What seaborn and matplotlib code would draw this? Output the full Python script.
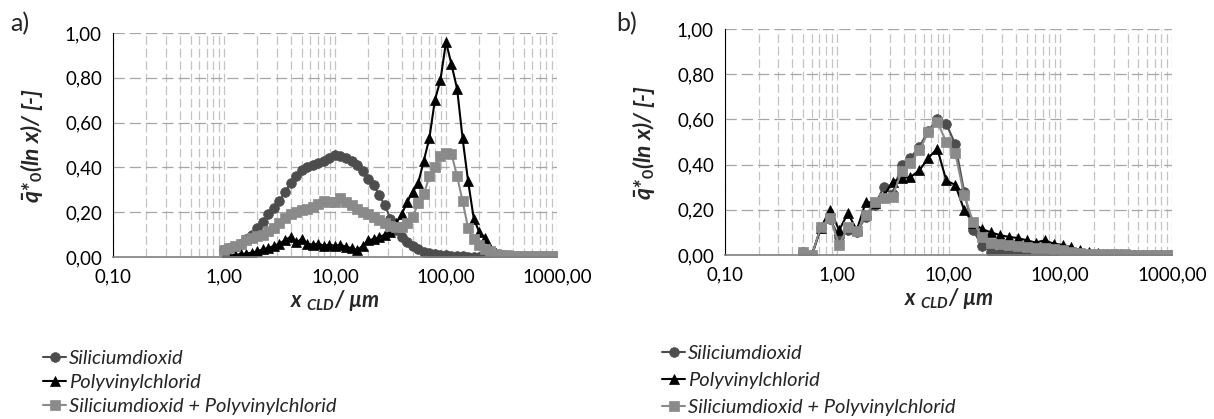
import numpy as np
import pandas as pd
import seaborn as sns
import matplotlib.pyplot as plt

# panel a: chord length channels (µm) and q*0 values
x_a = [1.00, 1.12, 1.26, 1.41, 1.58, 1.78, 2.00, 2.24, 2.51, 2.82,
       3.16, 3.55, 3.98, 4.47, 5.01, 5.62, 6.31, 7.08, 7.94, 8.91,
       10.0, 11.2, 12.6, 14.1, 15.8, 17.8, 20.0, 22.4, 25.1, 28.2,
       31.6, 35.5, 39.8, 44.7, 50.1, 56.2, 63.1, 70.8, 79.4, 89.1,
       100, 112, 126, 141, 158, 178, 200, 224, 251, 282,
       316, 355, 398, 447, 501, 562, 631, 708, 794, 891, 1000]
sio2_a = [0.03, 0.04, 0.045, 0.06, 0.08, 0.10, 0.13, 0.155, 0.19, 0.22,
          0.25, 0.29, 0.33, 0.36, 0.39, 0.40, 0.41, 0.42, 0.43, 0.44,
          0.455, 0.45, 0.44, 0.43, 0.41, 0.385, 0.35, 0.32, 0.275, 0.23,
          0.17, 0.12, 0.09, 0.065, 0.05, 0.035, 0.022, 0.016, 0.012, 0.009,
          0.007, 0.005, 0.004, 0.003, 0.002, 0.001, 0.0, 0.0, 0.0, 0.0,
          0.0, 0.0, 0.0, 0.0, 0.0, 0.0, 0.0, 0.0, 0.0, 0.0, 0.0]
pvc_a = [0.0, 0.005, 0.01, 0.012, 0.015, 0.02, 0.025, 0.035, 0.04, 0.05,
         0.06, 0.075, 0.09, 0.065, 0.08, 0.06, 0.055, 0.06, 0.05, 0.055,
         0.05, 0.055, 0.045, 0.04, 0.03, 0.05, 0.075, 0.08, 0.09, 0.10,
         0.11, 0.15, 0.19, 0.245, 0.29, 0.33, 0.43, 0.53, 0.70, 0.79,
         0.96, 0.86, 0.75, 0.53, 0.34, 0.17, 0.11, 0.085, 0.04, 0.02,
         0.008, 0.003, 0.0, 0.0, 0.0, 0.0, 0.0, 0.0, 0.0, 0.0, 0.0]
mix_a = [0.03, 0.04, 0.05, 0.06, 0.075, 0.085, 0.095, 0.10, 0.115, 0.13,
         0.15, 0.175, 0.19, 0.20, 0.21, 0.215, 0.225, 0.235, 0.25, 0.245,
         0.245, 0.265, 0.245, 0.23, 0.215, 0.20, 0.19, 0.18, 0.165, 0.15,
         0.14, 0.135, 0.135, 0.15, 0.18, 0.24, 0.28, 0.36, 0.40, 0.45,
         0.465, 0.46, 0.36, 0.25, 0.13, 0.08, 0.055, 0.035, 0.025, 0.015,
         0.01, 0.007, 0.005, 0.004, 0.004, 0.003, 0.003, 0.003, 0.003, 0.003, 0.003]

# panel b
x_b = [0.50, 0.60, 0.72, 0.87, 1.05, 1.26, 1.51, 1.82, 2.19, 2.63,
       3.16, 3.80, 4.57, 5.50, 6.61, 7.94, 9.55, 11.5, 13.8, 16.6,
       20.0, 24.0, 28.8, 34.7, 41.7, 50.1, 60.3, 72.4, 87.1, 105,
       126, 151, 182, 219, 263, 316, 380, 457, 550, 661, 794, 955]
sio2_b = [0.015, 0.0, 0.12, 0.16, 0.08, 0.11, 0.10, 0.17, 0.22, 0.30,
          0.27, 0.40, 0.43, 0.48, 0.55, 0.60, 0.58, 0.49, 0.28, 0.11,
          0.04, 0.015, 0.01, 0.008, 0.007, 0.006, 0.005, 0.004, 0.004, 0.003,
          0.003, 0.002, 0.002, 0.001, 0.001, 0.001, 0.0, 0.0, 0.0, 0.0, 0.0, 0.0]
pvc_b = [0.015, 0.0, 0.12, 0.20, 0.11, 0.185, 0.11, 0.235, 0.23, 0.26,
         0.325, 0.34, 0.345, 0.375, 0.43, 0.47, 0.33, 0.31, 0.20, 0.14,
         0.115, 0.10, 0.088, 0.08, 0.075, 0.065, 0.055, 0.065, 0.05, 0.045,
         0.035, 0.02, 0.012, 0.008, 0.005, 0.003, 0.002, 0.001, 0.001, 0.0, 0.0, 0.0]
mix_b = [0.015, 0.0, 0.125, 0.165, 0.045, 0.125, 0.105, 0.177, 0.235, 0.25,
         0.258, 0.37, 0.405, 0.465, 0.545, 0.59, 0.50, 0.45, 0.265, 0.147,
         0.08, 0.055, 0.05, 0.045, 0.04, 0.035, 0.03, 0.03, 0.025, 0.02,
         0.012, 0.008, 0.006, 0.005, 0.004, 0.003, 0.003, 0.002, 0.002, 0.002, 0.002, 0.002]

series_names = ["Siliciumdioxid", "Polyvinylchlorid", "Siliciumdioxid + Polyvinylchlorid"]
series_colors = ["#4d4d4d", "#000000", "#8a8a8a"]
series_markers = ["o", "^", "s"]
series_sizes = [7, 7.5, 6.5]

y_ticks = [0.0, 0.2, 0.4, 0.6, 0.8, 1.0]
y_labels = ["0,00", "0,20", "0,40", "0,60", "0,80", "1,00"]
x_ticks = [0.1, 1, 10, 100, 1000]
x_labels = ["0,10", "1,00", "10,00", "100,00", "1000,00"]

sns.set_style("white")
plt.rcParams['font.family'] = ['Lato', 'DejaVu Sans']
plt.rcParams['mathtext.fontset'] = 'custom'
plt.rcParams['mathtext.it'] = 'Lato:italic:bold'
plt.rcParams['mathtext.rm'] = 'Lato:bold'
plt.rcParams['mathtext.bf'] = 'Lato:bold'
FS = 13.5

fig = plt.figure(figsize=(12.14, 4.19), dpi=100)
ax_a = fig.add_axes([113/1214, 1-257/419, (557-113)/1214, (257-33)/419])
ax_b = fig.add_axes([725/1214, 1-255/419, (1172-725)/1214, (255-29)/419])

panels = [(ax_a, x_a, [sio2_a, pvc_a, mix_a]), (ax_b, x_b, [sio2_b, pvc_b, mix_b])]

for ax, xs, ys in panels:
    for name, vals, col, mk, ms in zip(series_names, ys, series_colors, series_markers, series_sizes):
        sns.lineplot(x=xs, y=vals, ax=ax, color=col, marker=mk, markersize=ms,
                     markeredgecolor=col, markeredgewidth=0.5, linewidth=1.5, label=name)
    ax.set_xscale("log")
    ax.set_xlim(0.1, 1000)
    ax.set_ylim(0, 1.0)
    ax.set_xticks(x_ticks, x_labels)
    ax.set_yticks(y_ticks, y_labels)
    ax.minorticks_off()
    ax.set_xticks([m * 10.0**e for e in range(-1, 3) for m in range(2, 10)], minor=True)
    ax.tick_params(axis="x", which="minor", length=0)
    ax.tick_params(axis="both", which="major", direction="out", length=5, width=1,
                   labelsize=FS, colors="black", pad=3)
    ax.tick_params(axis="x", which="major", color="#808080")
    ax.grid(axis="x", which="both", color="#c4c4c4", linewidth=0.9, linestyle=(0, (7, 3)))
    ax.grid(axis="y", which="major", color="#a6a6a6", linewidth=0.9, linestyle=(0, (9, 4)))
    ax.set_axisbelow(True)
    for s in ["top", "right"]:
        ax.spines[s].set_visible(False)
    ax.spines["left"].set_color("black")
    ax.spines["bottom"].set_color("#808080")
    ax.spines["bottom"].set_linewidth(1.2)
    ax.set_xlabel(r"x $_{CLD}$/ µm", fontsize=15.5, fontweight="bold", fontstyle="italic", labelpad=2)
    ax.set_ylabel(r"$\bar{q}$*$_{0}$(ln x)/ [-]", fontsize=16.5, fontweight="bold", fontstyle="italic", labelpad=14)
    ax.get_legend().remove()

LFS = 14.5
handles, labels = ax_a.get_legend_handles_labels()
fig.legend(handles, labels, loc="upper left", bbox_to_anchor=(43/1214, 1-350/419), frameon=False,
           prop={"size": LFS, "style": "italic"}, handlelength=1.15, handletextpad=0.15,
           labelspacing=0.33, borderpad=0, borderaxespad=0)
handles, labels = ax_b.get_legend_handles_labels()
fig.legend(handles, labels, loc="upper left", bbox_to_anchor=(662/1214, 1-345/419), frameon=False,
           prop={"size": LFS, "style": "italic"}, handlelength=1.15, handletextpad=0.15,
           labelspacing=0.48, borderpad=0, borderaxespad=0)

fig.text(10/1214, 1-24/419, "a)", fontsize=18, va="center", ha="left")
fig.text(616/1214, 1-24/419, "b)", fontsize=18, va="center", ha="left")

fig.savefig("out.png", dpi=100)
